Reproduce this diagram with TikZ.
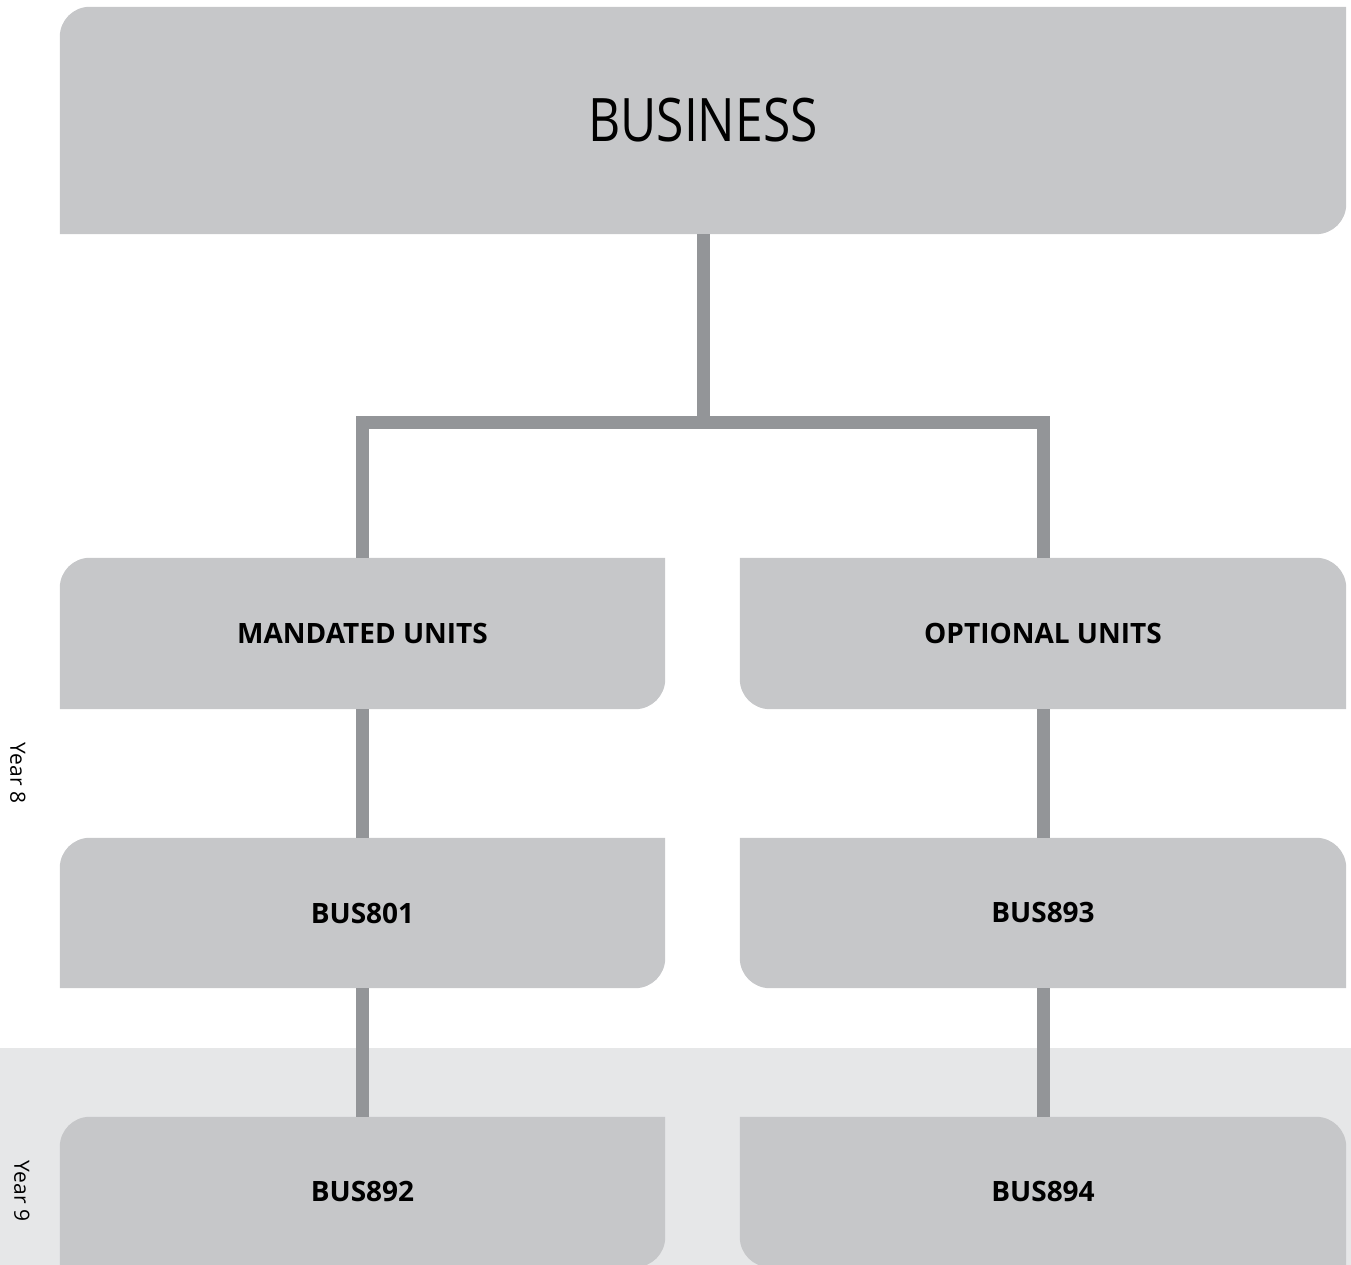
\documentclass[tikz,border=0pt]{standalone}
\usepackage{fontspec}
\setmainfont{Open Sans}
\newfontfamily\titlefont[FakeStretch=0.83]{Open Sans}
\usetikzlibrary{backgrounds}
\definecolor{boxgray}{HTML}{C6C7C9}
\definecolor{linegray}{HTML}{939598}
\definecolor{bandgray}{HTML}{E6E7E8}

\begin{document}
\begin{tikzpicture}[x=1pt,y=1pt,
    unit/.style={rectangle,inner sep=0pt,minimum width=605pt,minimum height=150pt,
      font=\fontsize{28}{32}\selectfont\bfseries},
    link/.style={draw=linegray,line width=13pt},
    yearlabel/.style={rotate=-90,font=\fontsize{21}{24}\selectfont}]

    \useasboundingbox (0,0) rectangle (1351,1265);

    \node[rectangle,inner sep=0pt,minimum width=1286pt,minimum height=227pt,
      font=\titlefont\fontsize{60}{64}\selectfont] (business) at (703,1144.5) {BUSINESS};
    \node[unit,minimum height=151pt] (mandated) at (362.5,631.5) {MANDATED UNITS};
    \node[unit,minimum height=151pt,minimum width=606pt] (optional) at (1043,631.5) {OPTIONAL UNITS};
    \node[unit] (bus801) at (362.5,352) {BUS801};
    \node[unit,minimum width=606pt] (bus893) at (1043,352) {BUS893};
    \node[unit] (bus892) at (362.5,73) {BUS892};
    \node[unit,minimum width=606pt] (bus894) at (1043,73) {BUS894};

    \node[yearlabel] (year8) at (18,492) {Year 8};
    \node[yearlabel] (year9) at (22,74) {Year 9};

    \begin{scope}[on background layer]
      \fill[bandgray] (0,0) rectangle (1351,217);
      \foreach \n in {business,mandated,bus801,bus892}
        \fill[boxgray] (\n.south west) -- ([yshift=-30pt]\n.north west)
          arc[start angle=180,end angle=90,radius=30pt] -- (\n.north east)
          -- ([yshift=30pt]\n.south east) arc[start angle=0,end angle=-90,radius=30pt] -- cycle;
      \foreach \n in {optional,bus893,bus894}
        \fill[boxgray] (\n.north west) -- ([xshift=-30pt]\n.north east)
          arc[start angle=90,end angle=0,radius=30pt] -- (\n.south east)
          -- ([xshift=30pt]\n.south west) arc[start angle=270,end angle=180,radius=30pt] -- cycle;
    \end{scope}

    \coordinate (split) at (703,842.5);
    \draw[link] (business.south) -- (split);
    \draw[link] (mandated.north) |- (split) -| (optional.north);
    \draw[link] (mandated) -- (bus801) (bus801) -- (bus892);
    \draw[link] (optional) -- (bus893) (bus893) -- (bus894);

\end{tikzpicture}
\end{document}
